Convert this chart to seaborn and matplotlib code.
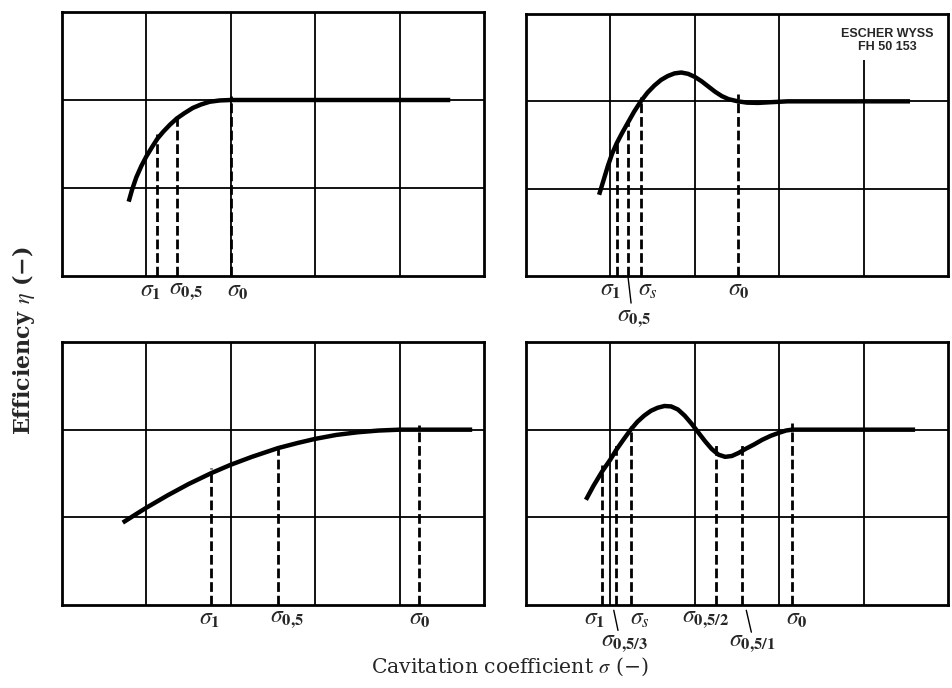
import matplotlib
matplotlib.use("Agg")
import matplotlib.pyplot as plt
import numpy as np
import pandas as pd
import seaborn as sns

# ---------------- data ----------------
# top-left panel
tl_curve_x = [0.79, 0.83, 0.88, 0.94, 1.0, 1.07, 1.13, 1.2, 1.28, 1.36, 1.45,
              1.55, 1.65, 1.75, 1.87, 2.0, 4.6]
tl_curve_y = [0.845, 0.98, 1.12, 1.25, 1.36, 1.47, 1.56, 1.64, 1.72, 1.79, 1.85,
              1.91, 1.95, 1.98, 1.995, 2.0, 2.0]
tl_mark_x = [1.13, 1.36, 2.0]
tl_mark_top = [1.61, 1.84, 2.04]
tl_labels = [r"$\sigma_{\mathbf{1}}$", r"$\sigma_{\mathbf{0{,}5}}$", r"$\sigma_{\mathbf{0}}$"]

# top-right panel
tr_curve_x = [0.866, 0.92, 0.97, 1.02, 1.075, 1.14, 1.21, 1.28, 1.36, 1.44, 1.52,
              1.60, 1.68, 1.76, 1.84, 1.92, 2.0, 2.08, 2.16, 2.24, 2.32, 2.40,
              2.51, 2.62, 2.75, 2.9, 3.1, 4.55]
tr_curve_y = [0.93, 1.10, 1.26, 1.40, 1.52, 1.64, 1.76, 1.88, 2.0, 2.10, 2.18,
              2.245, 2.29, 2.32, 2.33, 2.315, 2.28, 2.23, 2.17, 2.11, 2.06, 2.025,
              2.0, 1.985, 1.982, 1.99, 2.0, 2.0]
tr_mark_x = [1.075, 1.21, 1.36, 2.51]
tr_mark_top = [1.55, 1.79, 2.05, 2.08]
tr_labels = [r"$\sigma_{\mathbf{1}}$", r"$\sigma_{\mathbf{0{,}5}}$", r"$\sigma_s$",
             r"$\sigma_{\mathbf{0}}$"]

# bottom-left panel
bl_curve_x = [0.72, 0.9, 1.0, 1.25, 1.5, 1.77, 2.0, 2.25, 2.56, 2.8, 3.0, 3.25,
              3.5, 3.75, 4.0, 4.23, 4.86]
bl_curve_y = [0.94, 1.05, 1.11, 1.25, 1.38, 1.505, 1.60, 1.69, 1.79, 1.85, 1.895,
              1.94, 1.97, 1.99, 2.0, 2.0, 2.0]
bl_mark_x = [1.77, 2.56, 4.23]
bl_mark_top = [1.56, 1.84, 2.05]
bl_labels = [r"$\sigma_{\mathbf{1}}$", r"$\sigma_{\mathbf{0{,}5}}$", r"$\sigma_{\mathbf{0}}$"]

# bottom-right panel
br_curve_x = [0.71, 0.80, 0.90, 1.0, 1.07, 1.15, 1.24, 1.32, 1.40, 1.48, 1.56,
              1.64, 1.72, 1.80, 1.88, 1.96, 2.04, 2.12, 2.20, 2.28, 2.36, 2.44,
              2.52, 2.60, 2.70, 2.80, 2.90, 3.0, 3.08, 3.15, 3.3, 4.61]
br_curve_y = [1.20, 1.36, 1.52, 1.66, 1.77, 1.88, 2.0, 2.09, 2.16, 2.215, 2.25,
              2.27, 2.265, 2.23, 2.16, 2.07, 1.97, 1.87, 1.78, 1.715, 1.69, 1.70,
              1.735, 1.78, 1.83, 1.885, 1.93, 1.965, 1.99, 2.0, 2.0, 2.0]
br_mark_x = [0.90, 1.07, 1.24, 2.25, 2.56, 3.15]
br_mark_top = [1.60, 1.84, 2.04, 1.82, 1.82, 2.08]
br_labels = [r"$\sigma_{\mathbf{1}}$", r"$\sigma_{\mathbf{0{,}5/3}}$", r"$\sigma_s$",
             r"$\sigma_{\mathbf{0{,}5/2}}$", r"$\sigma_{\mathbf{0{,}5/1}}$",
             r"$\sigma_{\mathbf{0}}$"]

x_label = "Cavitation coefficient $\\sigma$ (\u2212)"
y_label = "Efficiency $\\eta$ (\u2212)"
stamp = "ESCHER WYSS\nFH 50 153"

# ---------------- layout ----------------
sns.set_theme(style="white")
plt.rcParams["font.family"] = ["DejaVu Serif"]
plt.rcParams["mathtext.fontset"] = "stix"

fig = plt.figure(figsize=(9.52, 6.88), dpi=100)
fig.patch.set_facecolor("white")

W, H = 952, 688
def rect(l, t, r, b):
    return [l / W, 1 - b / H, (r - l) / W, (b - t) / H]

panels = [
    dict(rect=rect(62, 12, 484, 276), cx=tl_curve_x, cy=tl_curve_y, mx=tl_mark_x, mt=tl_mark_top,
         labels=tl_labels, lx=[1.046, 1.474, 2.08], ly=[-0.16, -0.16, -0.16],
         leaders=[], vgrid_top=[3, 3, 3, 3]),
    dict(rect=rect(526, 14, 948, 276), cx=tr_curve_x, cy=tr_curve_y, mx=tr_mark_x, mt=tr_mark_top,
         labels=tr_labels, lx=[1.005, 1.28, 1.44, 2.52], ly=[-0.16, -0.48, -0.16, -0.16],
         leaders=[((1.21, 1.245), (-0.02, -0.31))], vgrid_top=[3, 3, 3, 2.47]),
    dict(rect=rect(62, 342, 484, 605), cx=bl_curve_x, cy=bl_curve_y, mx=bl_mark_x, mt=bl_mark_top,
         labels=bl_labels, lx=[1.75, 2.66, 4.24], ly=[-0.155, -0.155, -0.155],
         leaders=[], vgrid_top=[3, 3, 3, 3]),
    dict(rect=rect(526, 342, 948, 605), cx=br_curve_x, cy=br_curve_y, mx=br_mark_x, mt=br_mark_top,
         labels=br_labels, lx=[0.816, 1.17, 1.35, 2.13, 2.68, 3.21],
         ly=[-0.152, -0.43, -0.152, -0.152, -0.43, -0.152],
         leaders=[((1.04, 1.09), (-0.06, -0.29)), ((2.61, 2.67), (-0.06, -0.31))],
         vgrid_top=[3, 3, 3, 3]),
]

for p in panels:
    ax = fig.add_axes(p["rect"])
    ax.set_facecolor("white")
    ax.set_xlim(0, 5)
    ax.set_ylim(0, 3)
    # grid
    for i, top in zip(range(1, 5), p["vgrid_top"]):
        ax.plot([i, i], [0, top], color="black", lw=1.3, zorder=1, solid_capstyle="butt")
    for j in (1, 2):
        ax.axhline(j, color="black", lw=1.3, zorder=1)
    # dashed markers
    for x, t in zip(p["mx"], p["mt"]):
        ax.plot([x, x], [0, t], color="black", lw=2.0, dashes=(3.5, 1.4),
                dash_capstyle="butt", zorder=2)
    # curve
    df = pd.DataFrame({"sigma": p["cx"], "eta": p["cy"]})
    sns.lineplot(data=df, x="sigma", y="eta", ax=ax, color="black", lw=3.2,
                 sort=False, estimator=None, zorder=3)
    for ln in ax.get_lines()[-1:]:
        ln.set_solid_joinstyle("round")
        ln.set_solid_capstyle("butt")
    # labels
    for s, x, y in zip(p["labels"], p["lx"], p["ly"]):
        ax.text(x, y, s, ha="center", va="center", fontsize=17, clip_on=False)
    for xs, ys in p["leaders"]:
        ax.plot(xs, ys, color="black", lw=1.0, clip_on=False)
    ax.set_xticks([])
    ax.set_yticks([])
    ax.set_xlabel("")
    ax.set_ylabel("")
    for s in ax.spines.values():
        s.set_visible(True)
        s.set_linewidth(2.0)
        s.set_color("black")
    if p is panels[1]:
        ax.text(4.28, 2.70, stamp, ha="center", va="center", fontsize=9,
                fontweight="bold", family="Liberation Sans", linespacing=1.15)

fig.text(510 / W, 1 - 667 / H, x_label, ha="center", va="center", fontsize=14.7)
fig.text(24 / W, 1 - 341 / H, y_label, ha="center", va="center", rotation=90,
         fontsize=16, fontweight="bold")

fig.savefig("out.png", dpi=100, facecolor="white")
